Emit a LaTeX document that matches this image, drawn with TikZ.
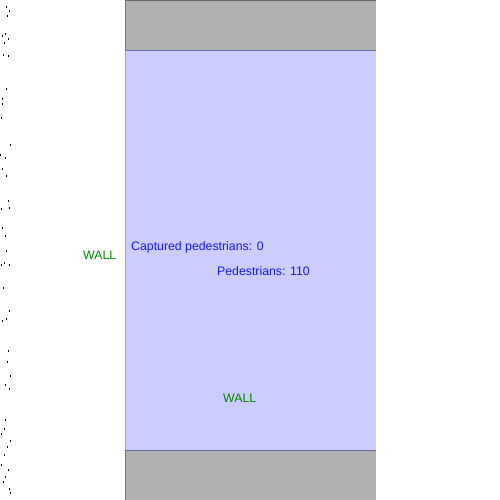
\documentclass[tikz,border=0pt]{standalone}
\usepackage{fontspec}
\setmainfont{Liberation Sans}
\definecolor{wallgray}{HTML}{B0B0B0}
\definecolor{floorblue}{HTML}{CCCCFF}
\definecolor{edgeblue}{HTML}{9A9AE6}
\definecolor{linedark}{HTML}{6E6EA6}
\definecolor{txtgreen}{HTML}{008A00}
\definecolor{txtblue}{HTML}{1A1AE6}
\tikzset{
  lbl/.style={anchor=base west, inner sep=0pt, font=\fontsize{12.3}{14}\selectfont},
  wall/.style={lbl, text=txtgreen},
  info/.style={lbl, text=txtblue},
  dot/.style={fill=black}
}
\begin{document}
\begin{tikzpicture}[x=1pt,y=-1pt]
\useasboundingbox (0,0) rectangle (500,500);
\fill[white] (0,0) rectangle (500,500);
\fill[wallgray] (125,0) rectangle (376,50);
\fill[floorblue] (125,50) rectangle (376,450);
\fill[wallgray] (125,450) rectangle (376,500);
\draw[gray!80!black, line width=1pt] (125,0.5) -- (376,0.5);
\draw[gray!90!black, line width=1pt] (125.5,0) -- (125.5,50);
\draw[gray!90!black, line width=1pt] (125.5,450) -- (125.5,500);
\draw[edgeblue, line width=1pt] (125.5,50) -- (125.5,450);
\draw[linedark, line width=1pt] (125,50.5) -- (376,50.5);
\draw[linedark, line width=1pt] (125,450.5) -- (376,450.5);
\node[info] (cap) at (131,250) {Captured pedestrians: 0};
\node[info] (ped) at (217,275) {Pedestrians: 110};
\node[wall] (wl) at (83,259) {WALL};
\node[wall] (wb) at (223,402) {WALL};
\foreach \x/\y in {6/7,9/11,7/16,5/34,2/36,8/39,4/43,3/55,8/56,6/89,2/99,2/104,1/118,10/145,0/155,5/158,2/169,6/176,8/201,1/209,9/208,2/228,5/236,6/251,4/263,1/265,9/265,3/288,9/311,6/319,2/321,8/351,7/362,10/376,5/385,9/389,5/420,4/429,1/434,10/441,7/447,4/455,1/465,8/470,5/477,3/482,9/489,10/493}
  \fill[dot] (\x,\y-1) rectangle (\x+1,\y+1);
\end{tikzpicture}
\end{document}
